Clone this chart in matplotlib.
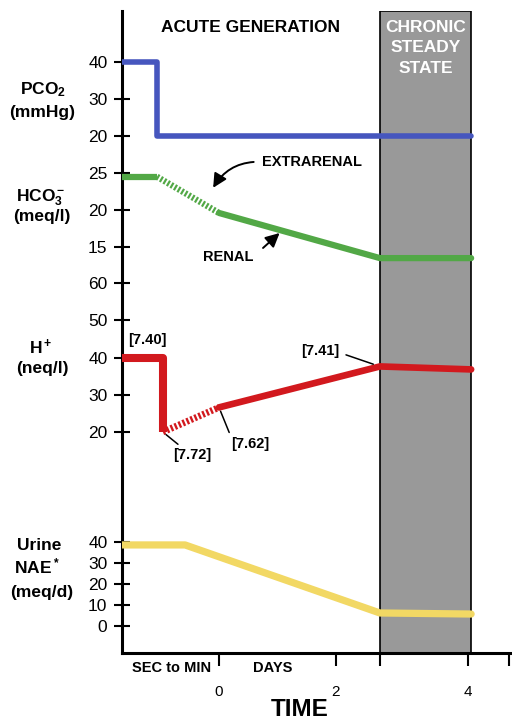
import numpy as np
import matplotlib.pyplot as plt

plt.rcParams['font.family'] = ['Liberation Sans', 'DejaVu Sans']
plt.rcParams['mathtext.fontset'] = 'custom'
plt.rcParams['mathtext.rm'] = 'Liberation Sans:bold'
plt.rcParams['mathtext.it'] = 'Liberation Sans:bold'
plt.rcParams['mathtext.bf'] = 'Liberation Sans:bold'

# schematic time axis (days); negative part = "sec to min" phase
t_start = -1.66
t_pco2_drop = -1.06
t_h_drop = -0.96
t_nae_fall = -0.58
t_day0 = 0.0
t_chronic = 2.75
t_end = 4.31

pco2_t = [t_start, t_pco2_drop, t_pco2_drop, t_end]
pco2_v = [40, 40, 20, 20]

hco3_flat_t = [t_start, t_pco2_drop]
hco3_flat_v = [24.5, 24.5]
hco3_extra_t = [t_pco2_drop, t_day0]
hco3_extra_v = [24.5, 19.6]
hco3_renal_t = [t_day0, t_chronic, t_end]
hco3_renal_v = [19.6, 13.5, 13.5]

h_acute_t = [t_start, t_h_drop, t_h_drop]
h_acute_v = [39.8, 39.8, 20]
h_buffer_t = [t_h_drop, t_day0]
h_buffer_v = [20, 26.6]
h_renal_t = [t_day0, t_chronic, t_end]
h_renal_v = [26.6, 37.6, 36.8]

nae_t = [t_start, t_nae_fall, t_chronic, t_end]
nae_v = [38.6, 38.6, 6.2, 5.7]

ph_labels = ['[7.40]', '[7.72]', '[7.62]', '[7.41]']

time_ticks = [0, 2, 2.75, 4.26, 4.96]
time_labels = ['0', '2', '', '4', '']

pco2_ticks = [20, 30, 40]
hco3_ticks = [15, 20, 25]
h_ticks = [20, 30, 40, 50, 60]
nae_ticks = [0, 10, 20, 30, 40]

BLUE = '#4656be'
GREEN = '#52a846'
RED = '#d2191e'
YELLOW = '#f2d864'

# layout in pixels
W, H = 512, 721
L, R, T, B = 122, 511, 11, 653
rect = [L / W, 1 - B / H, (R - L) / W, (B - T) / H]


def px(x, y):
    return x / W, 1 - y / H


def ylim_from(v_hi, p_hi, v_lo, p_lo):
    k = (v_hi - v_lo) / (p_lo - p_hi)
    return v_lo - (B - p_lo) * k, v_hi + (p_hi - T) * k


fig = plt.figure(figsize=(W / 100, H / 100), dpi=100)
ax = fig.add_axes(rect)
ax.set_xlim((L - 219) / 58.5, (R - 219) / 58.5)
ax.set_ylim(0, 1)
for s in ['top', 'right']:
    ax.spines[s].set_visible(False)
ax.spines['left'].set_linewidth(2.2)
ax.spines['bottom'].set_linewidth(2.2)
ax.set_yticks([])
ax.set_xticks(time_ticks)
ax.set_xticklabels(time_labels)
ax.tick_params(axis='x', direction='out', length=9, width=1.5, pad=14, labelsize=11)

ax.axvspan(t_chronic, t_end, ymin=0, ymax=1, facecolor='#999999',
           edgecolor='black', linewidth=1.2, zorder=0)
ax.text((t_chronic + t_end) / 2, (B - 20) / (B - T), 'CHRONIC\nSTEADY\nSTATE',
        ha='center', va='top', color='white', fontweight='bold', fontsize=12.5,
        linespacing=1.45)
ax.text(0.53, (B - 27) / (B - T), 'ACUTE GENERATION', ha='center', va='center',
        fontweight='bold', fontsize=12.5)


def panel(lims, ticks):
    a = fig.add_axes(rect, sharex=ax)
    a.patch.set_visible(False)
    for s in a.spines.values():
        s.set_visible(False)
    a.set_ylim(*lims)
    a.set_yticks(ticks)
    a.tick_params(axis='y', direction='inout', length=11, width=1.5, pad=5,
                  labelsize=12.5)
    a.tick_params(axis='x', bottom=False, labelbottom=False)
    return a


ax_p = panel(ylim_from(40, 62, 20, 136), pco2_ticks)
ax_b = panel(ylim_from(25, 173, 15, 247), hco3_ticks)
ax_h = panel(ylim_from(60, 283, 20, 432), h_ticks)
ax_n = panel(ylim_from(40, 542, 0, 626), nae_ticks)

ax_p.plot(pco2_t, pco2_v, color=BLUE, lw=4, solid_joinstyle='round',
          solid_capstyle='round')

ax_b.plot(hco3_flat_t, hco3_flat_v, color=GREEN, lw=4.5, solid_capstyle='butt')
ax_b.plot(hco3_extra_t, hco3_extra_v, color=GREEN, lw=4.5,
          linestyle=(0, (0.35, 0.3)), dash_capstyle='butt')
ax_b.plot(hco3_renal_t, hco3_renal_v, color=GREEN, lw=4.5,
          solid_joinstyle='round', solid_capstyle='round')

ax_h.plot(h_acute_t, h_acute_v, color=RED, lw=5.8, solid_joinstyle='round',
          solid_capstyle='butt')
ax_h.plot(h_buffer_t, h_buffer_v, color=RED, lw=4.8,
          linestyle=(0, (0.35, 0.3)), dash_capstyle='butt')
ax_h.plot(h_renal_t, h_renal_v, color=RED, lw=4.8, solid_joinstyle='round',
          solid_capstyle='round')

ax_n.plot(nae_t, nae_v, color=YELLOW, lw=5.2, solid_joinstyle='round',
          solid_capstyle='round')

# pH annotations
lead = dict(arrowstyle='-', color='black', lw=1.1, shrinkA=1, shrinkB=3)
ax_h.annotate(ph_labels[0], xy=(h_acute_t[0], h_acute_v[0]), xytext=(18, 13),
              textcoords='offset points', ha='center', va='center',
              fontweight='bold', fontsize=10.5)
ax_h.annotate(ph_labels[1], xy=(h_buffer_t[0], h_buffer_v[0]), xytext=(21, -16.5),
              textcoords='offset points', ha='center', va='center',
              fontweight='bold', fontsize=10.5, arrowprops=dict(lead, relpos=(0.25, 1)))
ax_h.annotate(ph_labels[2], xy=(h_buffer_t[1], h_buffer_v[1]), xytext=(22.3, -26),
              textcoords='offset points', ha='center', va='center',
              fontweight='bold', fontsize=10.5, arrowprops=dict(lead, relpos=(0, 1)))
ax_h.annotate(ph_labels[3], xy=(h_renal_t[1], h_renal_v[1]), xytext=(-43, 11),
              textcoords='offset points', ha='center', va='center',
              fontweight='bold', fontsize=10.5,
              arrowprops=dict(lead, relpos=(1, 0.4), shrinkA=3, shrinkB=5))

# extrarenal / renal arrows
head = '-|>,head_length=0.7,head_width=0.35'
ax_b.annotate('EXTRARENAL', xy=(-0.10, 23.0), xytext=(1.59, 26.5),
              ha='center', va='center', fontweight='bold', fontsize=10.5,
              arrowprops=dict(arrowstyle=head, color='black', lw=1.4,
                              connectionstyle='arc3,rad=0.3', relpos=(0, 0.5),
                              shrinkA=4, shrinkB=0, mutation_scale=12))
renal_x = 1.08
ax_b.annotate('RENAL', xy=(renal_x, np.interp(renal_x, hco3_renal_t, hco3_renal_v)),
              xytext=(0.15, 13.65), ha='center', va='center', fontweight='bold',
              fontsize=10.5,
              arrowprops=dict(arrowstyle=head, color='black', lw=1.4,
                              relpos=(1, 0.5), shrinkA=7, shrinkB=2.5,
                              mutation_scale=12))

# left-side variable labels
lab = dict(ha='center', va='center', fontweight='bold', fontsize=12.5)
fig.text(*px(43, 90), 'PCO$_2$', **lab)
fig.text(*px(42, 112), '(mmHg)', **lab)
fig.text(*px(41, 198), 'HCO$_3^-$', **lab)
fig.text(*px(42, 217), '(meq/l)', **lab)
fig.text(*px(41, 347), 'H$^+$', **lab)
fig.text(*px(42, 368), '(neq/l)', **lab)
fig.text(*px(39, 546), 'Urine', **lab)
fig.text(*px(37, 566), 'NAE$^*$', **lab)
fig.text(*px(42, 593), '(meq/d)', **lab)

# time axis texts
fig.text(*px(172, 668), 'SEC to MIN', ha='center', va='center', fontweight='bold', fontsize=10.5)
fig.text(*px(273, 668), 'DAYS', ha='center', va='center', fontweight='bold', fontsize=10.5)
fig.text(*px(300, 709), 'TIME', ha='center', va='center', fontweight='bold', fontsize=17.5)

fig.savefig('out.png', dpi=100)
